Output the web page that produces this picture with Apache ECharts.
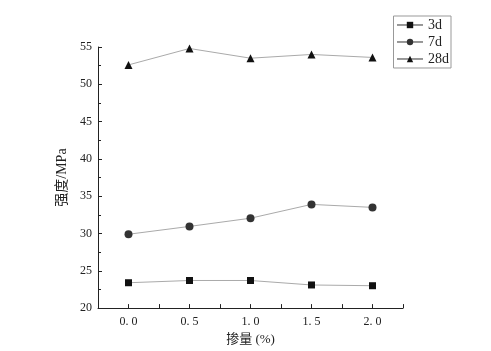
<!DOCTYPE html>
<html><head><meta charset="utf-8">
<script src="https://cdn.jsdelivr.net/npm/echarts@6/dist/echarts.min.js"></script>
<style>html,body{margin:0;padding:0;background:#fff}#c{width:491px;height:351px}</style>
</head><body><div id="c"></div>
<script>
const xValues = [0.0, 0.5, 1.0, 1.5, 2.0];
const s3d = [23.4, 23.7, 23.7, 23.1, 23.0];
const s7d = [29.9, 30.95, 32.05, 33.9, 33.5];
const s28d = [52.6, 54.8, 53.5, 54.0, 53.6];
const seriesNames = ['3d', '7d', '28d'];
const xTitle = '掺量 (%)';
const yTitle = '强度/MPa';
const FONT = '"Liberation Serif", "Noto Sans CJK SC", serif';

const pairs = arr => xValues.map((x, i) => [x, arr[i]]);
const chart = echarts.init(document.getElementById('c'));
const mk = (name, data, symbol, size, color) => ({
  name, type: 'line', data: pairs(data), symbol, symbolSize: size,
  itemStyle: { color: color },
  lineStyle: { color: '#aaaaaa', width: 1 },
  emphasis: { disabled: true }, animation: false
});
chart.setOption({
  backgroundColor: '#fff',
  animation: false,
  grid: { left: 98, right: 88, top: 47, bottom: 32 },
  legend: {
    right: 40, top: 16, orient: 'vertical', itemGap: 3,
    itemWidth: 26, itemHeight: 8,
    borderColor: '#999', borderWidth: 1, padding: [2, 2, 2, 3],
    lineStyle: { color: '#333', width: 1 },
    textStyle: { fontFamily: FONT, fontSize: 14, color: '#222' },
    data: seriesNames
  },
  xAxis: {
    type: 'value', min: -0.25, max: 2.25, interval: 0.25,
    name: xTitle, nameLocation: 'middle', nameGap: 24,
    nameTextStyle: { fontFamily: FONT, fontSize: 13, color: '#222' },
    axisLine: { onZero: false, lineStyle: { color: '#222', width: 1 } },
    axisTick: { inside: true, length: 4, lineStyle: { color: '#222' } },
    axisLabel: {
      fontFamily: FONT, fontSize: 12, color: '#222', margin: 8,
      formatter: v => (Math.abs(v * 2 - Math.round(v * 2)) < 1e-6 && v >= 0 && v <= 2) ? v.toFixed(1).replace('.', '. ') : ''
    },
    splitLine: { show: false }
  },
  yAxis: {
    type: 'value', min: 20, max: 55, interval: 5,
    name: yTitle, nameLocation: 'middle', nameGap: 28, nameRotate: 90,
    nameTextStyle: { fontFamily: FONT, fontSize: 14, color: '#222' },
    axisLine: { show: true, onZero: false, lineStyle: { color: '#222', width: 1 } },
    axisTick: { inside: true, length: 4, lineStyle: { color: '#222' } },
    minorTick: { show: true, splitNumber: 2, length: 3, lineStyle: { color: '#222' } },
    axisLabel: { fontFamily: FONT, fontSize: 12, color: '#222', margin: 6 },
    splitLine: { show: false }
  },
  series: [
    mk('3d', s3d, 'rect', 7, '#111'),
    mk('7d', s7d, 'circle', 8, '#333'),
    mk('28d', s28d, 'triangle', 8, '#111')
  ]
});
</script></body></html>
